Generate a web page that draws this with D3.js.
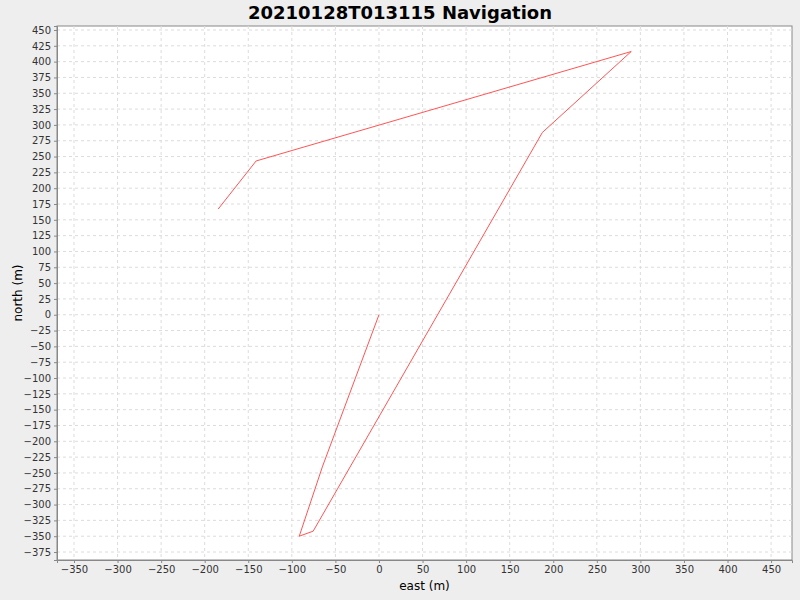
<!DOCTYPE html>
<html><head><meta charset="utf-8">
<script src="https://cdn.jsdelivr.net/npm/d3@7"></script>
<style>body{margin:0;background:#eeeeee}</style></head>
<body><svg id="c" width="800" height="600"></svg>
<script>
const east = [0, -65, -91.5, -75.5, 187.5, 289.5, -141, -184.5];
const north = [0, -240.5, -350, -342, 288, 416, 243, 167];
const xTicks = d3.range(-350, 451, 50);
const yTicks = d3.range(-375, 451, 25);
const svg = d3.select("#c");
const L=57,R=792,T=26,B=560;
const x = d3.scaleLinear().domain([-369.5,474]).range([L,R]);
const y = d3.scaleLinear().domain([-387.6,456.3]).range([B,T]);
svg.append("rect").attr("x",L).attr("y",T).attr("width",R-L).attr("height",B-T).attr("fill","#fff").attr("stroke","#888");
const g=svg.append("g");
g.selectAll(".vx").data(xTicks).join("line").attr("x1",d=>x(d)).attr("x2",d=>x(d)).attr("y1",T).attr("y2",B).attr("stroke","#dcdcdc").attr("stroke-dasharray","3,3");
g.selectAll(".hy").data(yTicks).join("line").attr("y1",d=>y(d)).attr("y2",d=>y(d)).attr("x1",L).attr("x2",R).attr("stroke","#dcdcdc").attr("stroke-dasharray","3,3");
const xa=svg.append("g").attr("transform",`translate(0,${B})`).call(d3.axisBottom(x).tickValues(xTicks).tickSize(3).tickPadding(3));
const ya=svg.append("g").attr("transform",`translate(${L},0)`).call(d3.axisLeft(y).tickValues(yTicks).tickSize(3).tickPadding(3));
[xa,ya].forEach(a=>{a.select(".domain").attr("stroke","#888");a.selectAll("text").attr("font-family","DejaVu Sans").attr("font-size",10).attr("fill","#333");a.selectAll(".tick line").attr("stroke","#888");});
const pts=east.map((e,i)=>[e,north[i]]);
svg.append("path").attr("d",d3.line().x(d=>x(d[0])).y(d=>y(d[1]))(pts)).attr("fill","none").attr("stroke","#ff5555").attr("stroke-width",1);
svg.append("text").attr("x",400).attr("y",19).attr("text-anchor","middle").attr("font-family","DejaVu Sans").attr("font-weight","bold").attr("font-size",18).text("20210128T013115 Navigation");
svg.append("text").attr("x",(L+R)/2).attr("y",590).attr("text-anchor","middle").attr("font-family","DejaVu Sans").attr("font-size",12).text("east (m)");
svg.append("text").attr("transform",`translate(22,${(T+B)/2}) rotate(-90)`).attr("text-anchor","middle").attr("font-family","DejaVu Sans").attr("font-size",12).text("north (m)");
</script></body></html>
